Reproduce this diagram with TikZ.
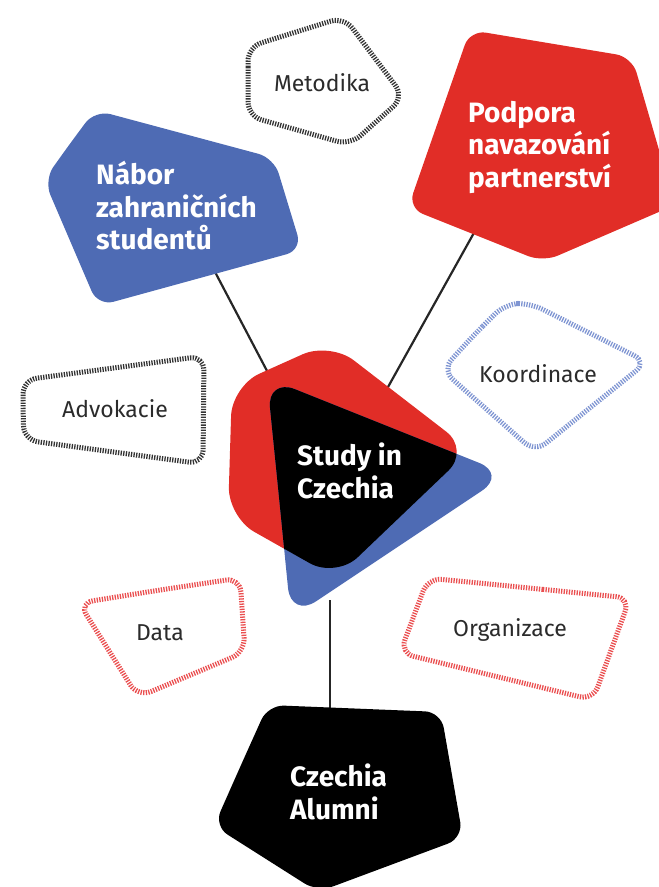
\documentclass[tikz,border=0pt]{standalone}
\usepackage{fontspec}
\setmainfont{Fira Sans}
\usetikzlibrary{positioning}

\definecolor{sicred}{HTML}{E12D27}
\definecolor{sicblue}{HTML}{4E6BB4}
\definecolor{hatchblue}{HTML}{7F95D2}
\definecolor{hatchred}{HTML}{EA4F50}
\definecolor{hatchgray}{HTML}{333333}
\definecolor{topictext}{HTML}{2B2B2B}

% outlines of the two overlapping shapes in the centre
\newcommand{\studyredpath}{(230,451) -- (232,386) -- (330,342) -- (470,450) -- (336,578) -- (228,517) -- cycle}
\newcommand{\studybluepath}{(279,497) -- (267,378) -- (507,474) -- (291,618) -- cycle}

\begin{document}
\begin{tikzpicture}[
  x=1pt, y=-1pt,
  blob/.style={rounded corners=16pt},
  bigblob/.style={rounded corners=30pt},
  hatched/.style={draw=#1, line width=5pt, dash pattern=on 1.3pt off 1.3pt, rounded corners=14pt},
  headline/.style={font=\fontsize{28}{32.5}\selectfont\bfseries, text=white, align=left, inner sep=0pt, anchor=west},
  topic/.style={font=\fontsize{23}{27}\selectfont, text=topictext, inner sep=0pt},
  link/.style={draw=black!85, line width=2.2pt}
]
  \useasboundingbox (0,0) rectangle (659,887);
  \clip (0,0) rectangle (659,887);

  % Connector ends (inside the shapes, the shapes cover them)
  \coordinate (naborFoot) at (214,270);
  \coordinate (studyNW)   at (276,388);
  \coordinate (podporaFoot) at (480,222);
  \coordinate (studyNE)   at (383,396);
  \coordinate (studyFoot) at (330,600);
  \coordinate (alumniTop) at (330,715);

  % Connectors
  \draw[link] (naborFoot) -- (studyNW);
  \draw[link] (podporaFoot) -- (studyNE);
  \draw[link] (studyFoot) -- (alumniTop);

  % Hatched outlines
  \draw[hatched=hatchgray] (248,81) -- (248,47) -- (344,17) -- (404,97) -- (350,145) -- (248,116) -- cycle;
  \draw[hatched=hatchgray] (23,410) -- (23,380) -- (204,356) -- (203,464) -- (24,440) -- cycle;
  \draw[hatched=hatchblue] (473,336) -- (505,304) -- (530,303) -- (647,362) -- (535,452) -- (442,370) -- cycle;
  \draw[hatched=hatchred]  (160,590) -- (240,578) -- (245,652) -- (138,697) -- (79,603) -- cycle;
  \draw[hatched=hatchred]  (529,588) -- (630,598) -- (593,700) -- (400,653) -- (428,578) -- cycle;

  % Filled shapes
  \fill[sicblue, blob] (69,145) -- (95,110) -- (274,158) -- (302,250) -- (98,306) -- (44,180) -- cycle;
  \fill[sicred, blob] (439,119) -- (470,30) -- (632,57) -- (675,205) -- (543,262) -- (408,208) -- cycle;
  \fill[black, blob] (241,765) -- (268,705) -- (441,712) -- (463,838) -- (318,892) -- (214,826) -- cycle;

  % Study in Czechia (black where red and blue overlap)
  \fill[sicred, bigblob] \studyredpath;
  \fill[sicblue, bigblob] \studybluepath;
  \begin{scope}
    \clip[bigblob] \studyredpath;
    \fill[black, bigblob] \studybluepath;
  \end{scope}

  % Labels
  \node[topic] (metodika)   at (322,83)  {Metodika};
  \node[topic] (advokacie)  at (115,409) {Advokacie};
  \node[topic] (koordinace) at (538,374) {Koordinace};
  \node[topic] (data)       at (160,633) {Data};
  \node[topic] (organizace) at (510,630) {Organizace};

  \node[headline] (nabor)   at (96,206)  {Nábor\\zahraničních\\studentů};
  \node[headline] (podpora) at (468,147) {Podpora\\navazování\\partnerství};
  \node[headline] (study)   at (297,471) {Study in\\Czechia};
  \node[headline] (alumni)  at (290,792) {Czechia\\Alumni};

\end{tikzpicture}
\end{document}
